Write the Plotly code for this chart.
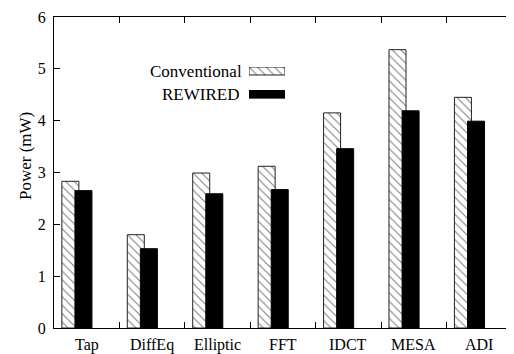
import numpy as np
import plotly.graph_objects as go

categories = ["Tap", "DiffEq", "Elliptic", "FFT", "IDCT", "MESA", "ADI"]
conventional = [2.83, 1.80, 2.99, 3.12, 4.15, 5.37, 4.45]
rewired = [2.65, 1.53, 2.59, 2.67, 3.46, 4.19, 3.99]
series_names = ["Conventional", "REWIRED"]
y_ticks = [0, 1, 2, 3, 4, 5, 6]
y_title = "Power (mW)"

FONT = "Liberation Serif"
OFF = 8  # page body margin offset
W, H = 514 - OFF, 354 - OFF
ML, MR, MT, MB = 54 - OFF, 2, 17 - OFF, 26
PW, PH = W - ML - MR, H - MT - MB

def px_x(px):
    return (px - OFF - ML) / PW

def px_y(py):
    return (H - MB - (py - OFF)) / PH

idx = np.arange(len(categories))
bar_w = 0.26

hatch = dict(shape="\\", fgcolor="#000000", bgcolor="white", size=6, solidity=0.18)

fig = go.Figure()
fig.add_trace(go.Bar(
    x=idx + 0.25, y=conventional, width=bar_w, name=series_names[0],
    marker=dict(color="white", pattern=hatch, line=dict(color="#222222", width=1)),
    showlegend=False,
))
fig.add_trace(go.Bar(
    x=idx + 0.45, y=rewired, width=bar_w, name=series_names[1],
    marker=dict(color="black", line=dict(color="black", width=1)),
    showlegend=False,
))

# legend swatches (gnuplot-style: text then swatch)
fig.add_trace(go.Bar(
    x=[1], y=[1], base=0, orientation="h", width=0.34, xaxis="x2", yaxis="y2",
    marker=dict(color="white", pattern=hatch, line=dict(color="#222222", width=1)),
    showlegend=False, hoverinfo="skip",
))
fig.add_trace(go.Bar(
    x=[1], y=[0], base=0, orientation="h", width=0.34, xaxis="x2", yaxis="y2",
    marker=dict(color="black", line=dict(color="black", width=1)),
    showlegend=False, hoverinfo="skip",
))

annotations = []
for i, c in enumerate(categories):
    annotations.append(dict(
        x=i + 0.5, y=0, xref="x", yref="paper", text=c, showarrow=False,
        xanchor="center", yanchor="top", yshift=-6,
        font=dict(family=FONT, size=16, color="black"),
    ))
annotations.append(dict(
    x=px_x(244), y=px_y(71), xref="paper", yref="paper", text=series_names[0],
    showarrow=False, xanchor="right", yanchor="middle",
    font=dict(family=FONT, size=17, color="black"),
))
annotations.append(dict(
    x=px_x(241), y=px_y(94.5), xref="paper", yref="paper", text=series_names[1],
    showarrow=False, xanchor="right", yanchor="middle",
    font=dict(family=FONT, size=17, color="black"),
))
annotations.append(dict(
    x=px_x(25), y=px_y(156), xref="paper", yref="paper", text=y_title,
    showarrow=False, xanchor="center", yanchor="middle", textangle=-90,
    font=dict(family=FONT, size=17, color="black"),
))

fig.update_layout(
    width=W, height=H,
    margin=dict(l=ML, r=MR, t=MT, b=MB),
    paper_bgcolor="white", plot_bgcolor="white",
    barmode="overlay",
    font=dict(family=FONT, size=16, color="black"),
    xaxis=dict(
        range=[0, len(categories)], tickvals=list(range(len(categories) + 1)),
        showticklabels=False, ticks="inside", ticklen=6, tickcolor="black",
        showline=True, linecolor="black", linewidth=1, mirror="ticks",
        showgrid=False, zeroline=False,
    ),
    yaxis=dict(
        range=[0, 6], tickvals=y_ticks, ticks="inside", ticklen=6, tickcolor="black",
        showline=True, linecolor="black", linewidth=1, mirror="ticks",
        showgrid=False, zeroline=False, ticklabelstandoff=4,
        tickfont=dict(family=FONT, size=16),
    ),
    xaxis2=dict(domain=[px_x(249), px_x(285)], range=[0, 1], visible=False, anchor="y2"),
    yaxis2=dict(domain=[px_y(98.5), px_y(67)], range=[-0.17, 1.17], visible=False, anchor="x2"),
    annotations=annotations,
)

fig.write_html("out.html")
